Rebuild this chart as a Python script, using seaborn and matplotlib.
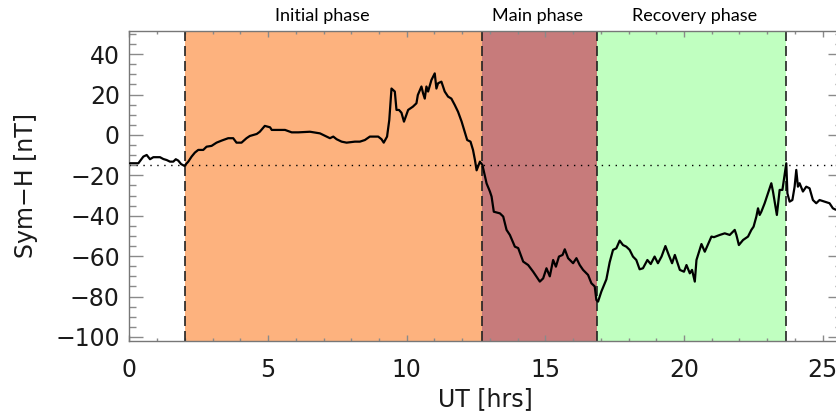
import matplotlib
matplotlib.use("Agg")
import matplotlib.pyplot as plt
import matplotlib.transforms as mtransforms
from matplotlib.ticker import MultipleLocator
import seaborn as sns
import pandas as pd

# ---- data ----
ut_hours = [0.02, 0.32, 0.50, 0.62, 0.74, 0.86, 1.10, 1.22, 1.34, 1.46, 1.58, 1.67, 1.76, 1.86, 1.98,
            2.12, 2.24, 2.36, 2.48, 2.66, 2.78, 2.96, 3.14, 3.32, 3.56, 3.74, 3.86, 4.04, 4.22, 4.34,
            4.59, 4.70, 4.88, 5.07, 5.13, 5.61, 5.85, 6.09, 6.51, 6.87, 6.99, 7.11, 7.23, 7.35, 7.47,
            7.65, 7.83, 8.13, 8.31, 8.49, 8.67, 8.97, 9.09, 9.17, 9.29, 9.37, 9.45, 9.57, 9.63, 9.72,
            9.81, 9.90, 10.05, 10.22, 10.35, 10.40, 10.53, 10.59, 10.65, 10.71, 10.77, 10.89, 11.01,
            11.07, 11.13, 11.25, 11.37, 11.49, 11.61, 11.73, 11.85, 11.98, 12.09, 12.18, 12.30, 12.39,
            12.46, 12.52, 12.64, 12.73, 12.88, 13.00, 13.06, 13.14, 13.36, 13.48, 13.60, 13.72, 13.90,
            14.02, 14.20, 14.38, 14.56, 14.80, 14.92, 15.04, 15.16, 15.28, 15.38, 15.49, 15.62, 15.70,
            15.82, 16.00, 16.12, 16.24, 16.36, 16.54, 16.66, 16.78, 16.84, 16.90, 17.02, 17.20, 17.32,
            17.44, 17.56, 17.68, 17.80, 17.92, 18.04, 18.16, 18.28, 18.40, 18.52, 18.68, 18.80, 18.94,
            19.06, 19.19, 19.33, 19.45, 19.57, 19.67, 19.85, 20.00, 20.09, 20.21, 20.29, 20.39, 20.45,
            20.63, 20.75, 20.87, 20.99, 21.08, 21.29, 21.47, 21.65, 21.83, 21.89, 21.98, 22.13, 22.31,
            22.43, 22.51, 22.61, 22.67, 22.73, 22.79, 22.91, 23.03, 23.15, 23.21, 23.31, 23.35, 23.45,
            23.55, 23.63, 23.69, 23.73, 23.81, 23.91, 23.99, 24.05, 24.11, 24.17, 24.29, 24.41, 24.53,
            24.65, 24.77, 24.89, 25.07, 25.25, 25.37, 25.47]
sym_h = [-14.0, -14.0, -10.7, -9.9, -12.0, -11.0, -11.0, -11.9, -12.4, -13.2, -13.2, -12.0, -12.7, -14.4, -15.3,
         -13.2, -10.7, -8.7, -7.4, -7.4, -5.8, -5.4, -3.8, -2.8, -1.6, -1.6, -3.8, -3.8, -1.6, -0.5,
         0.5, 1.6, 4.5, 3.8, 2.5, 2.5, 1.3, 1.3, 1.6, 0.8, 0.0, -0.8, -1.6, -0.8, -2.1,
         -3.3, -3.8, -3.3, -3.3, -2.5, -0.8, -0.8, -2.1, -3.8, -0.8, 7.4, 23.0, 21.5, 12.4, 12.4,
         11.0, 6.6, 12.4, 14.0, 15.7, 19.8, 24.0, 20.6, 18.0, 24.0, 21.5, 27.2, 30.5,
         23.0, 25.6, 26.4, 21.5, 19.0, 18.0, 14.9, 11.5, 6.6, 1.6, -2.5, -3.3, -7.4,
         -12.4, -17.5, -13.2, -14.9, -24.0, -28.0, -30.5, -38.0, -38.8, -40.4, -47.0, -49.5, -55.3,
         -56.0, -62.7, -64.4, -67.7, -72.6, -71.0, -66.0, -70.0, -61.9, -65.2, -60.2, -59.4, -56.6,
         -61.0, -63.5, -61.0, -64.4, -66.8, -69.3, -73.4, -75.0, -81.7, -82.5, -77.5, -71.5, -63.0,
         -56.9, -56.1, -52.3, -54.5, -55.3, -56.9, -60.2, -61.9, -66.5, -66.0, -61.9, -63.9, -60.2,
         -63.5, -60.2, -55.0, -59.4, -63.5, -59.4, -66.8, -67.7, -64.4, -68.5, -66.8, -72.6, -61.9,
         -54.0, -57.8, -54.0, -50.3, -50.6, -49.5, -48.7, -49.5, -47.0, -49.5, -54.5, -52.0, -50.3,
         -47.0, -45.4, -40.4, -36.3, -39.6, -38.0, -33.8, -28.9, -23.9, -28.0, -36.3, -39.6, -27.2,
         -27.2, -19.8, -14.0, -28.9, -33.0, -32.2, -25.6, -17.3, -25.6, -23.9, -28.0, -25.6, -26.4,
         -32.2, -33.8, -32.2, -33.0, -33.8, -36.3, -37.0]

phase_names = ["Initial phase", "Main phase", "Recovery phase"]
phase_bounds = [2.0, 12.73, 16.88, 23.68]
phase_colors = ["#FDB27E", "#C77B7B", "#C0FFC0"]
phase_label_x = [6.94, 14.72, 20.37]
quiet_level = -15.0

x_ticks = [0, 5, 10, 15, 20, 25]
y_ticks = [-100, -80, -60, -40, -20, 0, 20, 40]

df = pd.DataFrame({"UT": ut_hours, "SymH": sym_h})

# ---- figure ----
sns.set_theme(style="ticks")
plt.rcParams["font.family"] = ["DejaVu Sans"]

fig = plt.figure(figsize=(8.36, 4.19), dpi=100)
ax = fig.add_axes([0.1549, 0.1862, 0.8523, 0.7399])

for i, name in enumerate(phase_names):
    ax.axvspan(phase_bounds[i], phase_bounds[i + 1], color=phase_colors[i], lw=0, zorder=0)
for b in phase_bounds:
    ax.axvline(b, color="#222222", lw=1.2, linestyle=(0, (6, 3)), zorder=2)
ax.axhline(quiet_level, color="black", lw=1.0, linestyle=(0, (1, 4)), zorder=2)

sns.lineplot(data=df, x="UT", y="SymH", ax=ax, color="black", lw=1.6,
             estimator=None, sort=False, zorder=4)

ax.set_xlim(0, 25.7)
ax.set_ylim(-102, 51.5)
ax.set_xticks(x_ticks)
ax.set_yticks(y_ticks)
ax.xaxis.set_minor_locator(MultipleLocator(1))
ax.yaxis.set_minor_locator(MultipleLocator(5))

ax.tick_params(axis="both", which="both", direction="in", top=True, right=True,
               color="#8a8a8a", width=1.0, labelsize=17, labelcolor="#1a1a1a")
ax.tick_params(axis="y", which="major", length=10, pad=7)
ax.tick_params(axis="y", which="minor", length=5)
ax.tick_params(axis="x", which="major", length=4.3, pad=12)
ax.tick_params(axis="x", which="minor", length=2.2)
for s in ax.spines.values():
    s.set_color("#777777")
    s.set_linewidth(1.0)

ax.set_xlabel("UT [hrs]", fontsize=17, labelpad=4, color="#1a1a1a")
ax.set_ylabel("Sym\u2212H [nT]", fontsize=17, color="#1a1a1a")
ax.yaxis.set_label_coords(-0.128, 0.5)

trans = mtransforms.blended_transform_factory(ax.transData, ax.transAxes)
for name, xp in zip(phase_names, phase_label_x):
    ax.text(xp, 1.048, name, transform=trans, ha="center", va="center",
            fontsize=13, family=["Lato", "DejaVu Sans"], color="black")

fig.savefig("out.png", dpi=100)
